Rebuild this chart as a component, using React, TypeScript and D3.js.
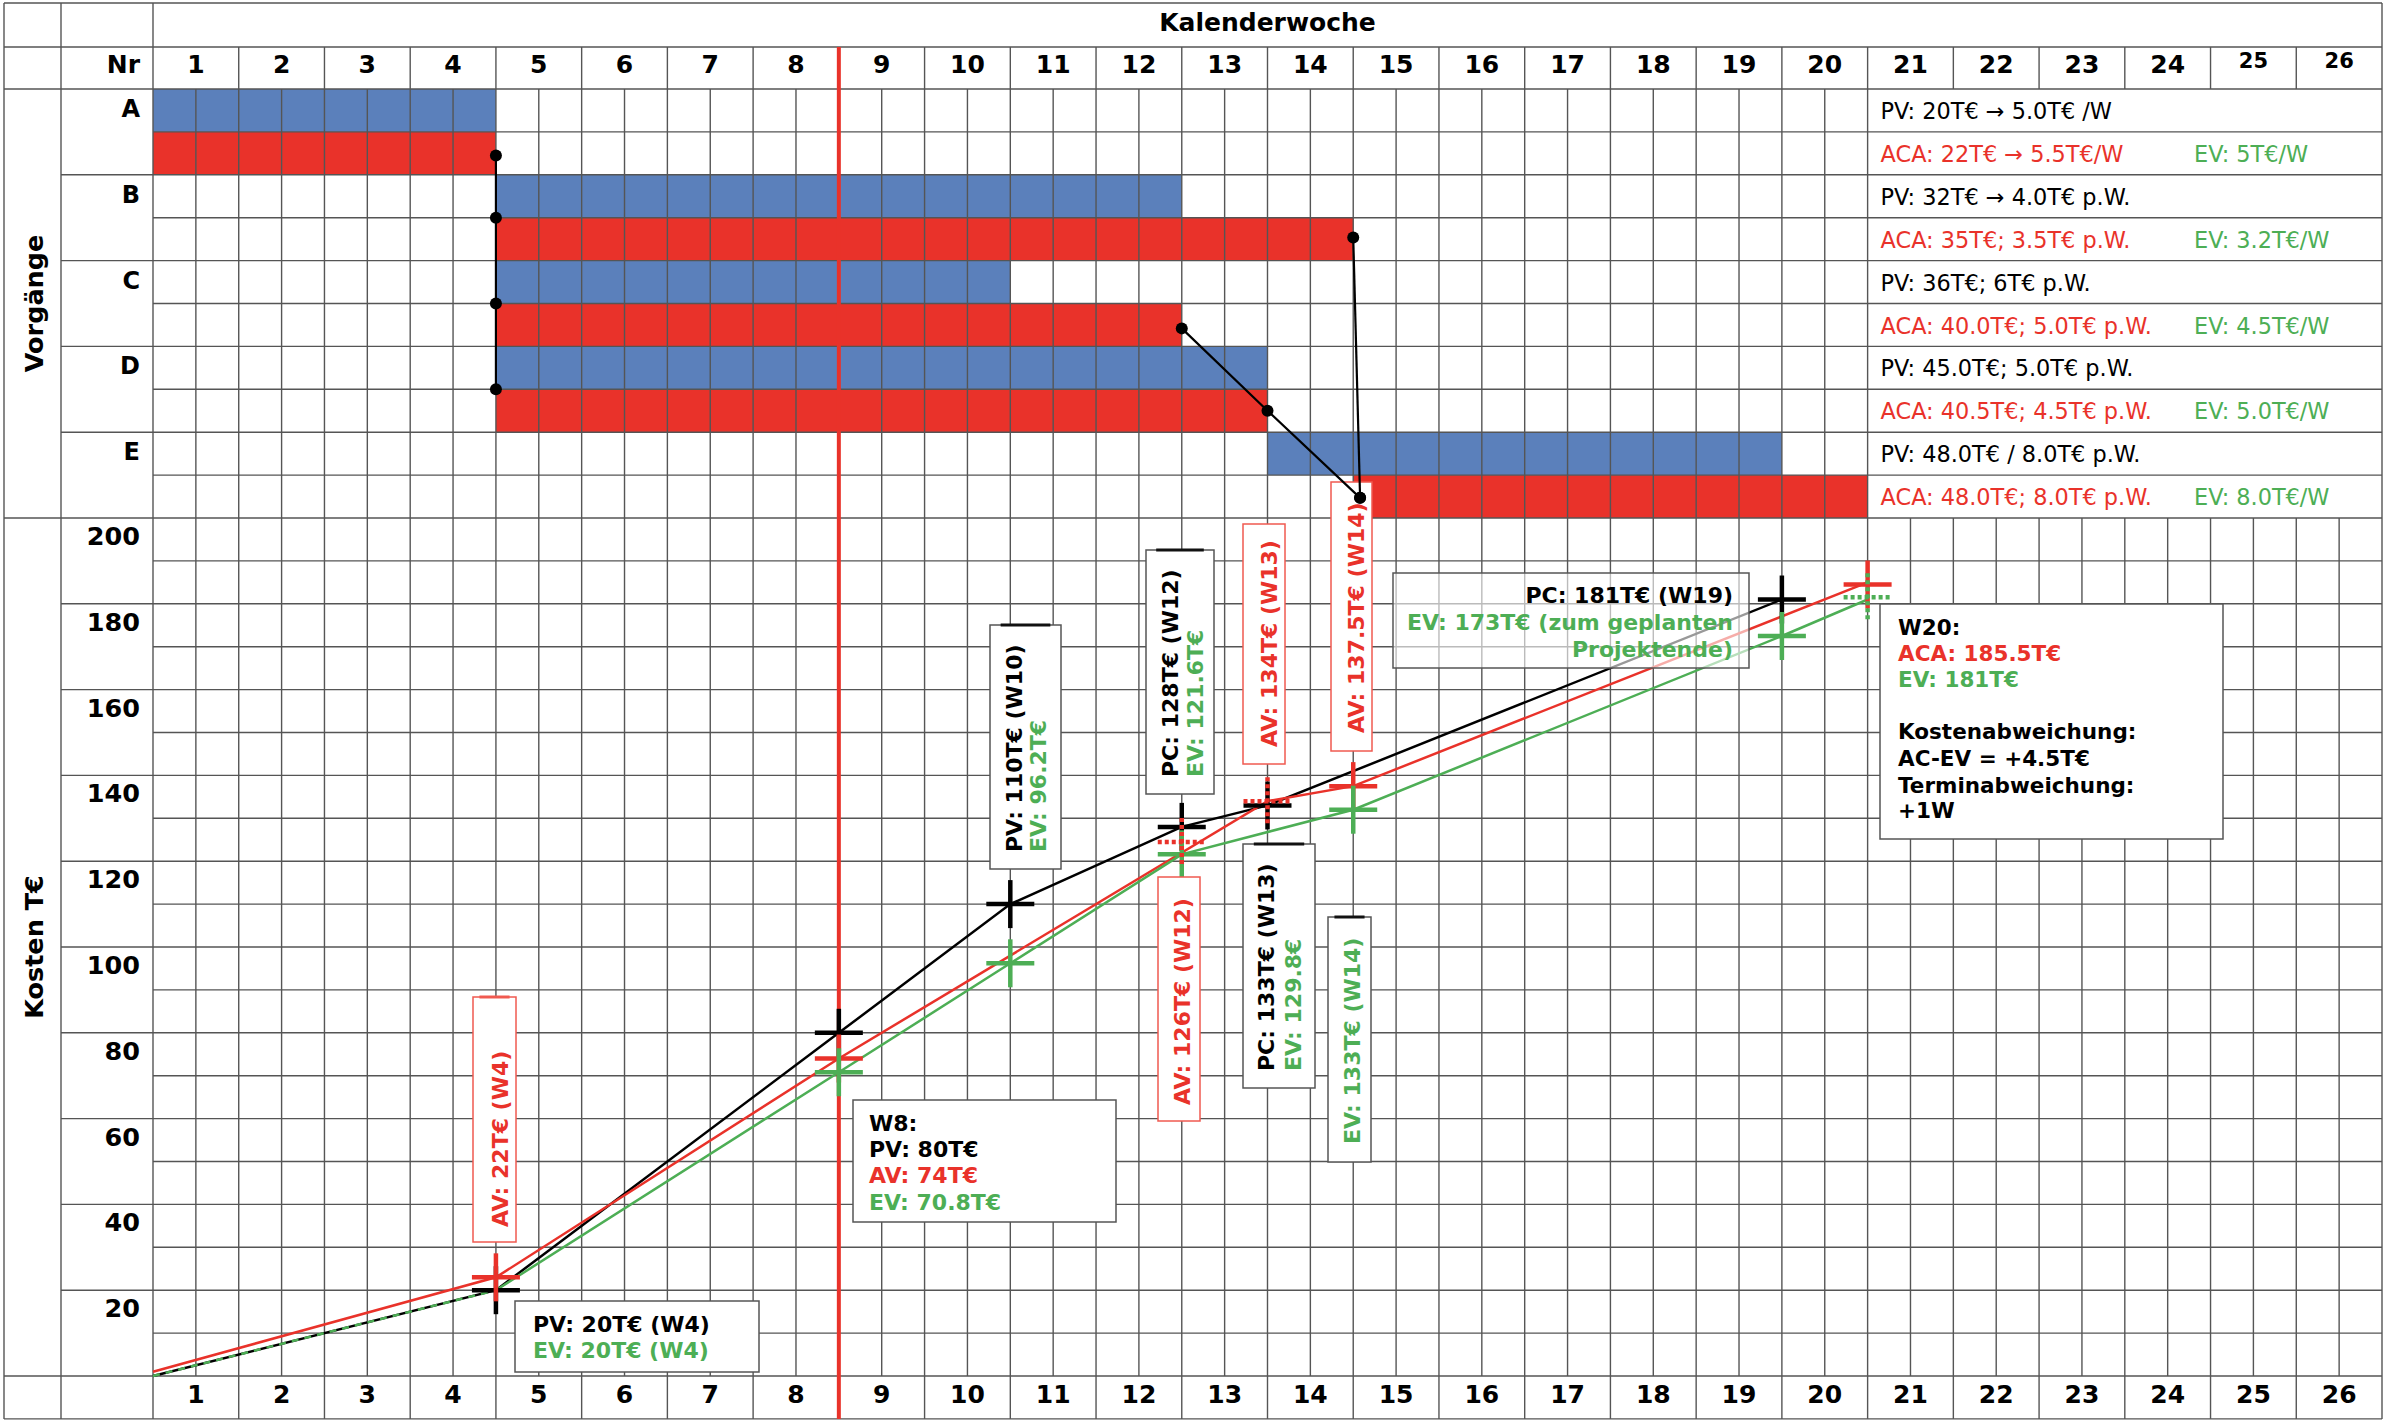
import React, { useEffect } from "react";
import * as d3 from "d3";

const W = 2386;
const H = 1424;

// ---------------- data ----------------
const weekLabels = d3.range(1, 27).map(String);
const costTicks = [200, 180, 160, 140, 120, 100, 80, 60, 40, 20];
const taskNames = ["A", "B", "C", "D", "E"];
const planStart = [0, 4, 4, 4, 13];
const planEnd = [4, 12, 10, 13, 19];
const actualStart = [0, 4, 4, 4, 14];
const actualEnd = [4, 14, 12, 13, 20];
const planNotes = [
  "PV: 20T€ → 5.0T€ /W",
  "PV: 32T€ → 4.0T€ p.W.",
  "PV: 36T€; 6T€ p.W.",
  "PV: 45.0T€; 5.0T€ p.W.",
  "PV: 48.0T€ / 8.0T€ p.W.",
];
const actualNotes = [
  "ACA: 22T€ → 5.5T€/W",
  "ACA: 35T€; 3.5T€ p.W.",
  "ACA: 40.0T€; 5.0T€ p.W.",
  "ACA: 40.5T€; 4.5T€ p.W.",
  "ACA: 48.0T€; 8.0T€ p.W.",
];
const evNotes = ["EV: 5T€/W", "EV: 3.2T€/W", "EV: 4.5T€/W", "EV: 5.0T€/W", "EV: 8.0T€/W"];

const pvWeeks = [0, 4, 8, 10, 12, 13, 19];
const pvValues = [0, 20, 80, 110, 128, 133, 181];
const acWeeks = [0, 4, 8, 13, 14, 20];
const acValues = [1, 23, 74, 134, 137.5, 185];
const evWeeks = [0, 4, 8, 10, 12, 14, 19, 20];
const evValues = [0, 20, 70.8, 96.2, 121.6, 132, 172.5, 181];

const pvMarkWeeks = [4, 8, 10, 12, 13, 19];
const pvMarkValues = [20, 80, 110, 128, 133, 181];
const acMarkWeeks = [4, 8, 12, 13, 14, 20];
const acMarkValues = [23, 74, 124.5, 134, 137.5, 184.5];
const acMarkDashed = [false, false, true, true, false, false];
const evMarkWeeks = [8, 10, 12, 14, 19, 20];
const evMarkValues = [70.8, 96.2, 121.6, 132, 172.5, 181.5];
const evMarkDashed = [false, false, false, false, false, true];

const statusWeek = 8;

// dependency chains: [week, gantt row index, fraction within row]
const depChains = [
  [[4, 1, 0.55], [4, 3, 0], [4, 5, 0], [4, 7, 0]],
  [[12, 5, 0.58], [13, 7, 0.5], [14.08, 9, 0.53]],
  [[14, 3, 0.46], [14.08, 9, 0.53]],
];

// ---------------- styles ----------------
const BLUE = "#5B80BB";
const RED = "#E9322A";
const GREEN = "#4DAE55";
const GRID = "#555";
const FONT = "DejaVu Sans";

type Line = { t: string; c: string };

const RText = ({ x, y, lines, gap = 25, size = 22 }: { x: number; y: number; lines: Line[]; gap?: number; size?: number }) => (
  <g>
    {lines.map((l, i) => (
      <text
        key={i}
        transform={`translate(${x + i * gap},${y}) rotate(-90)`}
        fill={l.c}
        fontSize={size}
        fontWeight="bold"
      >
        {l.t}
      </text>
    ))}
  </g>
);

export default function App() {
  useEffect(() => {
    document.body.style.margin = "0";
    document.body.style.overflow = "hidden";
  }, []);

  const xS = d3.scaleLinear().domain([0, 26]).range([153, 2382]);
  const yS = d3.scaleLinear().domain([0, 200]).range([1376, 518]);
  const rowH = (yS(0) - yS(200)) / 20;
  const ganttTop = yS(200) - 10 * rowH;
  const x0 = 4, x1 = 61, x2 = xS(0), xEnd = xS(26);
  const yTop = 3, yNr = 47, yC = yS(200), yB = yS(0), yBot = yB + rowH;
  const rowY = (r: number) => ganttTop + r * rowH;

  const lineGen = d3
    .line<[number, number]>()
    .x((d) => xS(d[0]))
    .y((d) => yS(d[1]));
  const pvPts = pvWeeks.map((w, i) => [w, pvValues[i]] as [number, number]);
  const acPts = acWeeks.map((w, i) => [w, acValues[i]] as [number, number]);
  const evPts = evWeeks.map((w, i) => [w, evValues[i]] as [number, number]);

  const hLines: JSX.Element[] = [];
  const vLines: JSX.Element[] = [];
  const hl = (y: number, xa: number, xb: number, k: string) =>
    hLines.push(<line key={k} x1={xa} x2={xb} y1={y} y2={y} />);
  const vl = (x: number, ya: number, yb: number, k: string) =>
    vLines.push(<line key={k} x1={x} x2={x} y1={ya} y2={yb} />);

  hl(yTop, x0, xEnd, "ht");
  hl(yNr, x0, xEnd, "hn");
  hl(ganttTop, x0, xEnd, "hg");
  for (let i = 1; i < 10; i++) hl(rowY(i), i % 2 === 0 ? x1 : x2, xEnd, "hgr" + i);
  hl(yC, x0, xEnd, "hc");
  for (let j = 1; j < 20; j++) hl(yC + j * rowH, j % 2 === 0 ? x1 : x2, xEnd, "hcr" + j);
  hl(yB, x0, xEnd, "hb");
  hl(yBot, x0, xEnd, "hbb");
  [x0, x1, x2, xEnd].forEach((x, i) => vl(x, yTop, yBot, "vb" + i));
  for (let w = 1; w < 26; w++) {
    vl(xS(w), yNr, ganttTop, "vn" + w);
    vl(xS(w), yB, yBot, "vbo" + w);
  }
  for (let h = 1; h < 52; h++) {
    if (h <= 40) vl(xS(h / 2), ganttTop, yC, "vg" + h);
    vl(xS(h / 2), yC, yB, "vc" + h);
  }

  const cross = (x: number, y: number, color: string, dashed: boolean, k: string) => (
    <g key={k} stroke={color} strokeWidth={4.5} strokeDasharray={dashed ? "4 3" : undefined}>
      <line x1={x - 24} x2={x + 24} y1={y} y2={y} />
      <line x1={x} x2={x} y1={y - 24} y2={y + 24} />
    </g>
  );

  // annotation boxes (layout)
  const boxes = [
    { x: 473, y: 997, w: 43, h: 245, red: true, top: true },
    { x: 990, y: 625, w: 71, h: 244, red: false, top: true },
    { x: 1146, y: 550, w: 68, h: 244, red: false, top: true },
    { x: 1243, y: 524, w: 42, h: 240, red: true, top: false },
    { x: 1331, y: 482, w: 41, h: 269, red: true, top: false },
    { x: 1158, y: 877, w: 42, h: 244, red: true, top: false },
    { x: 1243, y: 844, w: 72, h: 244, red: false, top: true },
    { x: 1328, y: 917, w: 43, h: 245, red: false, top: true },
    { x: 515, y: 1301, w: 244, h: 71, red: false, top: false },
    { x: 853, y: 1100, w: 263, h: 122, red: false, top: false },
    { x: 1880, y: 604, w: 343, h: 235, red: false, top: false },
  ];

  return (
    <svg width={W} height={H} style={{ display: "block" }} fontFamily={FONT}>
      <rect x={0} y={0} width={W} height={H} fill="#fff" />

      {/* gantt bars */}
      {taskNames.map((t, i) => (
        <g key={t}>
          <rect x={xS(planStart[i])} y={rowY(2 * i)} width={xS(planEnd[i]) - xS(planStart[i])} height={rowH} fill={BLUE} />
          <rect x={xS(actualStart[i])} y={rowY(2 * i + 1)} width={xS(actualEnd[i]) - xS(actualStart[i])} height={rowH} fill={RED} />
        </g>
      ))}

      {/* grid */}
      <g stroke={GRID} strokeWidth={1.4}>
        {hLines}
        {vLines}
      </g>

      {/* status line */}
      <line x1={xS(statusWeek)} x2={xS(statusWeek)} y1={yNr} y2={yBot} stroke={RED} strokeWidth={4} />

      {/* header texts */}
      <text x={(x2 + xEnd) / 2} y={31} textAnchor="middle" fontSize={25} fontWeight="bold">Kalenderwoche</text>
      <text x={140} y={73} textAnchor="end" fontSize={25} fontWeight="bold">Nr</text>
      {weekLabels.map((l, i) => (
        <text key={"hw" + l} x={(xS(i) + xS(i + 1)) / 2} y={i >= 24 ? 68 : 73} textAnchor="middle" fontSize={i >= 24 ? 21 : 25} fontWeight="bold">{l}</text>
      ))}
      {weekLabels.map((l, i) => (
        <text key={"bw" + l} x={(xS(i) + xS(i + 1)) / 2} y={yB + 27} textAnchor="middle" fontSize={25} fontWeight="bold">{l}</text>
      ))}
      <text transform={`translate(43,${(ganttTop + yC) / 2}) rotate(-90)`} textAnchor="middle" fontSize={25.5} fontWeight="bold">Vorgänge</text>
      <text transform={`translate(43,${(yC + yB) / 2}) rotate(-90)`} textAnchor="middle" fontSize={25.5} fontWeight="bold">Kosten T€</text>
      {taskNames.map((t, i) => (
        <text key={"tn" + t} x={140} y={rowY(2 * i) + 28} textAnchor="end" fontSize={24} fontWeight="bold">{t}</text>
      ))}
      {costTicks.map((v) => (
        <text key={"yt" + v} x={140} y={yS(v) + 27} textAnchor="end" fontSize={25.5} fontWeight="bold">{v}</text>
      ))}

      {/* gantt notes */}
      {taskNames.map((t, i) => (
        <g key={"nt" + t} fontSize={22.4}>
          <text x={xS(20) + 13} y={rowY(2 * i) + 30} fill="#000">{planNotes[i]}</text>
          <text x={xS(20) + 13} y={rowY(2 * i + 1) + 30} fill={RED}>{actualNotes[i]}</text>
          <text x={2194} y={rowY(2 * i + 1) + 30} fill={GREEN}>{evNotes[i]}</text>
        </g>
      ))}

      {/* value lines */}
      <path d={lineGen(pvPts) || ""} fill="none" stroke="#000" strokeWidth={2.5} />
      <path d={lineGen(acPts) || ""} fill="none" stroke={RED} strokeWidth={2.5} />
      <path d={lineGen(evPts.slice(1)) || ""} fill="none" stroke={GREEN} strokeWidth={2.5} />
      <path d={lineGen(evPts.slice(0, 2)) || ""} fill="none" stroke={GREEN} strokeWidth={2.5} strokeDasharray="7 6" />

      {/* markers */}
      {pvMarkWeeks.map((w, i) => cross(xS(w), yS(pvMarkValues[i]), "#000", false, "pm" + i))}
      {acMarkWeeks.map((w, i) => (!acMarkDashed[i] ? cross(xS(w), yS(acMarkValues[i]), RED, false, "am" + i) : null))}
      {evMarkWeeks.map((w, i) => (!evMarkDashed[i] ? cross(xS(w), yS(evMarkValues[i]), GREEN, false, "em" + i) : null))}
      {acMarkWeeks.map((w, i) => (acMarkDashed[i] ? cross(xS(w), yS(acMarkValues[i]), RED, true, "amd" + i) : null))}
      {evMarkWeeks.map((w, i) => (evMarkDashed[i] ? cross(xS(w), yS(evMarkValues[i]), GREEN, true, "emd" + i) : null))}

      {/* annotation boxes */}
      {boxes.map((b, i) => (
        <g key={"bx" + i}>
          <rect x={b.x} y={b.y} width={b.w} height={b.h} fill="#fff" stroke={b.red ? "#F05A50" : GRID} strokeWidth={1.5} />
          {b.top && (
            <line x1={b.x + b.w * 0.15} x2={b.x + b.w * 0.85} y1={b.y} y2={b.y} stroke={b.red ? "#F05A50" : "#111"} strokeWidth={3} />
          )}
        </g>
      ))}
      <rect x={1393} y={573} width={356} height={95} fill="#fff" fillOpacity={0.6} stroke={GRID} strokeWidth={1.5} />

      <RText x={508} y={1227} lines={[{ t: "AV: 22T€ (W4)", c: RED }]} />
      <RText x={1022} y={852} gap={24} lines={[{ t: "PV: 110T€ (W10)", c: "#000" }, { t: "EV: 96.2T€", c: GREEN }]} />
      <RText x={1178} y={777} lines={[{ t: "PC: 128T€ (W12)", c: "#000" }, { t: "EV: 121.6T€", c: GREEN }]} />
      <RText x={1277} y={747} lines={[{ t: "AV: 134T€ (W13)", c: RED }]} />
      <RText x={1364} y={733} lines={[{ t: "AV: 137.5T€ (W14)", c: RED }]} />
      <RText x={1190} y={1105} lines={[{ t: "AV: 126T€ (W12)", c: RED }]} />
      <RText x={1274} y={1071} gap={27} lines={[{ t: "PC: 133T€ (W13)", c: "#000" }, { t: "EV: 129.8€", c: GREEN }]} />
      <RText x={1360} y={1144} lines={[{ t: "EV: 133T€ (W14)", c: GREEN }]} />

      <g fontSize={22} fontWeight="bold">
        <text x={533} y={1332} fill="#000">PV: 20T€ (W4)</text>
        <text x={533} y={1358} fill={GREEN}>EV: 20T€ (W4)</text>

        <text x={869} y={1131} fill="#000">W8:</text>
        <text x={869} y={1157} fill="#000">PV: 80T€</text>
        <text x={869} y={1183} fill={RED}>AV: 74T€</text>
        <text x={869} y={1210} fill={GREEN}>EV: 70.8T€</text>

        <text x={1733} y={603} textAnchor="end" fill="#000">PC: 181T€ (W19)</text>
        <text x={1733} y={630} textAnchor="end" fill={GREEN}>EV: 173T€ (zum geplanten</text>
        <text x={1733} y={657} textAnchor="end" fill={GREEN}>Projektende)</text>
      </g>
      <g fontSize={21.5} fontWeight="bold">
        <text x={1898} y={635} fill="#000">W20:</text>
        <text x={1898} y={661} fill={RED}>ACA: 185.5T€</text>
        <text x={1898} y={687} fill={GREEN}>EV: 181T€</text>
        <text x={1898} y={739} fill="#000">Kostenabweichung:</text>
        <text x={1898} y={766} fill="#000">AC-EV = +4.5T€</text>
        <text x={1898} y={793} fill="#000">Terminabweichung:</text>
        <text x={1898} y={818} fill="#000">+1W</text>
      </g>

      {/* dependencies */}
      {depChains.map((chain, ci) => {
        const pts = chain.map((p) => [xS(p[0]), rowY(p[1]) + p[2] * rowH] as [number, number]);
        return (
          <g key={"dep" + ci}>
            <path d={d3.line()(pts) || ""} fill="none" stroke="#000" strokeWidth={2.2} />
            {pts.map((p, k) => (
              <circle key={k} cx={p[0]} cy={p[1]} r={6} fill="#000" />
            ))}
          </g>
        );
      })}
    </svg>
  );
}
